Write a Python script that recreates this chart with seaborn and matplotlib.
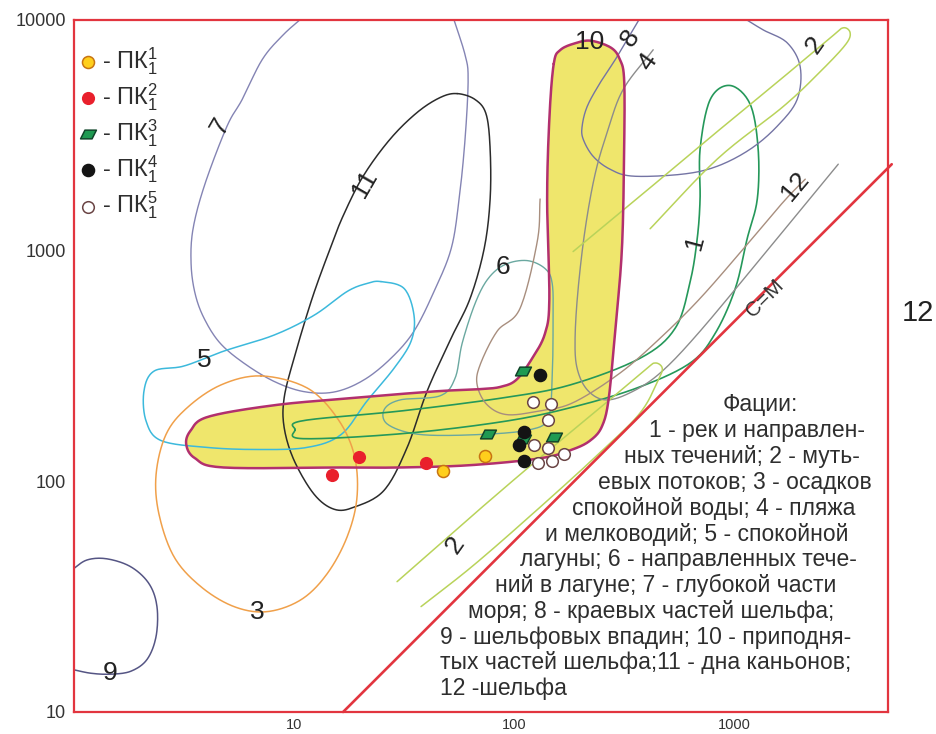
import numpy as np
import matplotlib
matplotlib.use("Agg")
import matplotlib.pyplot as plt
from matplotlib.path import Path
from matplotlib.ticker import NullLocator
import seaborn as sns

# ---------------- sample points (M, C in micrometres) ----------------
pk1_M = [73.8, 47.5]
pk1_C = [129, 111]
pk2_M = [14.9, 19.7, 39.8]
pk2_C = [106, 127, 120]
pk3_M = [110, 110, 76.2, 152]
pk3_C = [301, 153, 160, 156]
pk4_M = [131, 111, 105, 111]
pk4_C = [289, 164, 144, 123]
pk5_M = [122, 147, 143, 123, 143, 129, 149, 169]
pk5_C = [221, 217, 185, 144, 140, 120, 123, 132]

# ---------------- facies fields (log10 M, log10 C) ----------------
f10_lgM = [2.18, 2.21, 2.28, 2.35, 2.44, 2.48, 2.50, 2.50, 2.49, 2.46, 2.43, 2.40, 2.35, 2.27,
           2.12, 1.80, 1.48, 1.21, 0.68, 0.55, 0.51, 0.53, 0.61, 0.91, 1.25, 1.64, 1.85, 1.94,
           2.01, 2.08, 2.14, 2.16, 2.15, 2.16]
f10_lgC = [3.81, 3.87, 3.90, 3.91, 3.88, 3.83, 3.74, 3.44, 3.01, 2.66, 2.36, 2.24, 2.18, 2.14,
           2.10, 2.07, 2.06, 2.06, 2.06, 2.10, 2.16, 2.22, 2.28, 2.33, 2.36, 2.39, 2.40, 2.41,
           2.44, 2.53, 2.64, 2.79, 3.22, 3.57]

f7_lgM = [1.05, 0.95, 0.855, 0.764, 0.695, 0.595, 0.541, 0.532, 0.55, 0.591, 0.664, 0.777, 0.914,
          1.05, 1.186, 1.318, 1.441, 1.545, 1.636, 1.714, 1.75, 1.777, 1.791, 1.777, 1.72]
f7_lgC = [4.02, 3.935, 3.828, 3.655, 3.539, 3.289, 3.095, 2.944, 2.815, 2.707, 2.599, 2.509, 2.431,
          2.388, 2.388, 2.44, 2.534, 2.651, 2.823, 3.009, 3.224, 3.483, 3.741, 3.849, 4.02]

f11_lgM = [1.741, 1.823, 1.873, 1.891, 1.891, 1.864, 1.80, 1.714, 1.605, 1.514, 1.409, 1.273, 1.182,
           1.091, 1.0, 0.955, 0.955, 1.0, 1.082, 1.164, 1.223, 1.314, 1.436, 1.559, 1.664]
f11_lgC = [3.681, 3.655, 3.591, 3.44, 3.224, 3.009, 2.793, 2.621, 2.392, 2.147, 1.961, 1.888, 1.879,
           1.944, 2.091, 2.233, 2.362, 2.534, 2.793, 3.009, 3.151, 3.323, 3.483, 3.599, 3.664]

f5_lgM = [1.395, 1.5, 1.545, 1.532, 1.455, 1.332, 1.214, 1.059, 0.832, 0.605, 0.395, 0.327, 0.318,
          0.364, 0.5, 0.682, 0.909, 1.091, 1.241, 1.332]
f5_lgC = [2.866, 2.836, 2.72, 2.608, 2.491, 2.349, 2.203, 2.147, 2.138, 2.147, 2.177, 2.263, 2.392,
          2.478, 2.5, 2.565, 2.634, 2.72, 2.823, 2.858]

f3_lgM = [0.85, 1.059, 1.195, 1.273, 1.286, 1.241, 1.15, 1.032, 0.877, 0.727, 0.577, 0.455, 0.386,
          0.373, 0.418, 0.514, 0.668]
f3_lgC = [2.457, 2.405, 2.276, 2.116, 1.931, 1.759, 1.599, 1.487, 1.435, 1.457, 1.543, 1.672, 1.858,
          2.03, 2.203, 2.319, 2.418]

f9_lgM = [-0.01, 0.059, 0.15, 0.259, 0.341, 0.377, 0.373, 0.332, 0.259, 0.168, 0.077, -0.01]
f9_lgC = [1.616, 1.659, 1.664, 1.629, 1.556, 1.457, 1.328, 1.228, 1.177, 1.164, 1.168, 1.185]

f6_lgM = [1.959, 1.882, 1.823, 1.764, 1.732, 1.664, 1.482, 1.409, 1.427, 1.573, 1.845, 2.073, 2.155,
          2.173, 2.177, 2.173, 2.141, 2.059]
f6_lgC = [2.94, 2.879, 2.772, 2.599, 2.448, 2.371, 2.353, 2.31, 2.246, 2.203, 2.203, 2.224, 2.276,
          2.448, 2.707, 2.858, 2.922, 2.957]

f1_lgM = [1.005, 1.041, 1.495, 1.95, 2.255, 2.559, 2.80, 2.914, 3.005, 3.059, 3.105, 3.109, 3.073,
          2.982, 2.891, 2.845, 2.845, 2.832, 2.80, 2.732, 2.573, 2.255, 1.95, 1.495, 1.041]
f1_lgC = [2.224, 2.185, 2.207, 2.259, 2.319, 2.405, 2.513, 2.642, 2.836, 3.052, 3.224, 3.44, 3.634,
          3.716, 3.655, 3.44, 3.224, 3.052, 2.866, 2.664, 2.534, 2.418, 2.362, 2.306, 2.263]

f8_lgM = [2.573, 2.468, 2.391, 2.332, 2.309, 2.314, 2.359, 2.436, 2.541, 2.768, 2.923, 3.073, 3.195,
          3.286, 3.30, 3.241, 3.132, 3.041]
f8_lgC = [4.01, 3.841, 3.728, 3.625, 3.539, 3.483, 3.409, 3.353, 3.323, 3.332, 3.366, 3.44, 3.539,
          3.655, 3.797, 3.901, 3.957, 4.01]

f4_lgM = [2.632, 2.495, 2.423, 2.368, 2.323, 2.291, 2.277, 2.286, 2.332, 2.414, 2.527, 2.664, 2.845,
          3.164, 3.473]
f4_lgC = [3.871, 3.698, 3.513, 3.332, 3.095, 2.836, 2.621, 2.491, 2.397, 2.353, 2.384, 2.47, 2.651,
          3.017, 3.375]

f12_lgM = [2.118, 2.105, 2.027, 1.923, 1.845, 1.832, 1.877, 1.968, 2.118, 2.268, 2.482, 2.664, 2.845,
           3.05, 3.223, 3.323]
f12_lgC = [3.224, 3.039, 2.75, 2.651, 2.504, 2.418, 2.332, 2.289, 2.306, 2.341, 2.47, 2.621, 2.793,
           3.017, 3.211, 3.31]

f2a_lgM = [1.468, 1.818, 2.118, 2.391, 2.595, 2.641, 2.673, 2.655, 2.573, 2.391, 2.118, 1.818, 1.577]
f2a_lgC = [1.565, 1.858, 2.103, 2.319, 2.483, 2.513, 2.491, 2.44, 2.297, 2.125, 1.888, 1.638, 1.457]

f2b_lgM = [2.268, 2.573, 2.891, 3.209, 3.436, 3.495, 3.527, 3.505, 3.391, 3.223, 2.923, 2.618]
f2b_lgC = [2.996, 3.237, 3.491, 3.741, 3.922, 3.966, 3.944, 3.892, 3.776, 3.625, 3.397, 3.095]

# C = M boundary
cm_M = [16.7, 5200]
cm_C = [10, 2370]

# field numbers: text, log10 M, log10 C, rotation
lab_txt = ["10", "8", "4", "2", "7", "11", "6", "5", "1", "12", "2", "3", "9"]
lab_lgM = [2.345, 2.527, 2.609, 3.368, 0.664, 1.323, 1.95, 0.591, 2.823, 3.277, 1.732, 0.832, 0.164]
lab_lgC = [3.905, 3.922, 3.819, 3.892, 3.539, 3.289, 2.931, 2.526, 3.039, 3.28, 1.724, 1.435, 1.168]
lab_rot = [0, 55, 55, 55, 60, 60, 0, 0, 75, 50, 55, 0, 0]

facies_title = "Фации:"
facies_lines = [
    "1 - рек и направлен-",
    "ных течений; 2 - муть-",
    "евых потоков; 3 - осадков",
    "спокойной воды; 4 - пляжа",
    "и мелководий; 5 - спокойной",
    "лагуны; 6 - направленных тече-",
    "ний в лагуне; 7 - глубокой части",
    "моря; 8 - краевых частей шельфа;",
    "9 - шельфовых впадин; 10 - приподня-",
    "тых частей шельфа;11 - дна каньонов;",
    "12 -шельфа",
]
facies_left_px = [649, 624, 598, 572, 545, 520, 495, 468, 440, 440, 440]

x_ticks = [10, 100, 1000]
y_ticks = [10, 100, 1000, 10000]

# ---------------- style ----------------
sns.set_theme(style="white")
plt.rcParams["font.family"] = ["Liberation Sans", "DejaVu Sans"]
plt.rcParams["mathtext.fontset"] = "custom"
plt.rcParams["mathtext.rm"] = "Liberation Sans"
plt.rcParams["mathtext.it"] = "Liberation Sans"
plt.rcParams["mathtext.bf"] = "Liberation Sans"

RED = "#e2353f"
TXT = "#2e2e2e"

W, H = 936, 734
fig = plt.figure(figsize=(W / 100, H / 100), dpi=100)
ax = fig.add_axes([74 / W, 1 - 712 / H, 814 / W, 692 / H])
ax.set_xscale("log")
ax.set_yscale("log")
ax.set_xlim(1, 5000)
ax.set_ylim(10, 10000)


def spline(lx, ly, closed, n=16):
    """Catmull-Rom curve through the given log-space nodes, returned in linear units."""
    P = np.column_stack([lx, ly]).astype(float)
    if closed:
        Q = np.vstack([P[-1], P, P[0], P[1]])
        nseg = len(P)
    else:
        Q = np.vstack([2 * P[0] - P[1], P, 2 * P[-1] - P[-2]])
        nseg = len(P) - 1
    t = np.linspace(0, 1, n, endpoint=False)[:, None]
    out = []
    for i in range(nseg):
        p0, p1, p2, p3 = Q[i], Q[i + 1], Q[i + 2], Q[i + 3]
        out.append(0.5 * (2 * p1 + (-p0 + p2) * t + (2 * p0 - 5 * p1 + 4 * p2 - p3) * t ** 2
                          + (-p0 + 3 * p1 - 3 * p2 + p3) * t ** 3))
    out.append(Q[nseg + 1][None, :])
    pts = np.vstack(out)
    return 10 ** pts[:, 0], 10 ** pts[:, 1]


# field 10 (filled)
x10, y10 = spline(f10_lgM, f10_lgC, True)
ax.fill(x10, y10, facecolor="#efe66c", edgecolor="none", zorder=1)

fields = [
    (f7_lgM, f7_lgC, False, "#8484b4", 1.0),
    (f11_lgM, f11_lgC, True, "#2b2b2b", 1.1),
    (f5_lgM, f5_lgC, True, "#3cb9dc", 1.1),
    (f3_lgM, f3_lgC, True, "#f0a04a", 1.1),
    (f9_lgM, f9_lgC, False, "#555584", 1.1),
    (f6_lgM, f6_lgC, True, "#6aa8a0", 1.0),
    (f1_lgM, f1_lgC, True, "#25985a", 1.2),
    (f8_lgM, f8_lgC, False, "#7474a4", 1.0),
    (f4_lgM, f4_lgC, False, "#8c8c8c", 1.0),
    (f12_lgM, f12_lgC, False, "#a88e7e", 1.0),
    (f2a_lgM, f2a_lgC, False, "#b9d35a", 1.1),
    (f2b_lgM, f2b_lgC, False, "#b9d35a", 1.1),
]
for lx, ly, closed, col, lw in fields:
    xs, ys = spline(lx, ly, closed)
    ax.plot(xs, ys, color=col, lw=lw, zorder=2)

ax.plot(x10, y10, color="#b2306e", lw=1.8, zorder=3)

ax.plot(cm_M, cm_C, color=RED, lw=1.9, zorder=3, clip_on=False)

# sample points
para = Path([(-1.0, -0.55), (0.45, -0.55), (1.0, 0.55), (-0.45, 0.55), (-1.0, -0.55)],
            [Path.MOVETO, Path.LINETO, Path.LINETO, Path.LINETO, Path.CLOSEPOLY])
series = [
    ("1", pk1_M, pk1_C, "o", "#ffcf1c", "#c87412", 75),
    ("2", pk2_M, pk2_C, "o", "#e9202c", "#e9202c", 70),
    ("3", pk3_M, pk3_C, para, "#1f9a52", "#11452a", 130),
    ("4", pk4_M, pk4_C, "o", "#141414", "#141414", 75),
    ("5", pk5_M, pk5_C, "o", "#ffffff", "#6a4444", 70),
]
for sup, M, C, mk, face, edge, size in series:
    sns.scatterplot(x=M, y=C, ax=ax, marker=mk, s=size, color=face, edgecolor=edge,
                    linewidth=1.1, zorder=6, label="- ПК$_1^{" + sup + "}$")

leg = ax.legend(loc="upper left", bbox_to_anchor=(0.0, 0.969), frameon=False, fontsize=17,
                handletextpad=0.15, labelspacing=0.19, borderaxespad=0.0, handlelength=0.9,
                borderpad=0.15)
for t in leg.get_texts():
    t.set_color(TXT)

# field numbers
for txt, lx, ly, rot in zip(lab_txt, lab_lgM, lab_lgC, lab_rot):
    ax.text(10 ** lx, 10 ** ly, txt, fontsize=19, color="#222222", rotation=rot,
            ha="center", va="center", zorder=5, rotation_mode="anchor")

ax.text(10 ** 3.141, 10 ** 2.793, "C=M", fontsize=15, color="#333333", rotation=45,
        ha="center", va="center", rotation_mode="anchor", zorder=5)

# legend of facies
fig.text(760 / W, 1 - 405 / H, facies_title, fontsize=16.5, color=TXT, ha="center", va="center")
for i, (line, lx) in enumerate(zip(facies_lines, facies_left_px)):
    y = 405 + 25.8 * (i + 1)
    fig.text(lx / W, 1 - y / H, line, fontsize=16.5, color=TXT, ha="left", va="center")

fig.text(918 / W, 1 - 313 / H, "12", fontsize=21, color="#222222", ha="center", va="center")

# axes
ax.set_xticks(x_ticks)
ax.set_xticklabels([str(v) for v in x_ticks])
ax.set_yticks(y_ticks)
ax.set_yticklabels([str(v) for v in y_ticks])
ax.xaxis.set_minor_locator(NullLocator())
ax.yaxis.set_minor_locator(NullLocator())
ax.tick_params(axis="both", which="major", direction="out", length=4, width=0.8,
               color="#777777", labelcolor="#333333", pad=2)
ax.tick_params(axis="x", labelsize=10.5, length=3, pad=1)
ax.tick_params(axis="y", labelsize=13)
ax.set_xlabel("")
ax.set_ylabel("")
for sp in ax.spines.values():
    sp.set_color(RED)
    sp.set_linewidth(1.6)
    sp.set_visible(True)
ax.set_facecolor("white")

fig.savefig("out.png", dpi=100)
